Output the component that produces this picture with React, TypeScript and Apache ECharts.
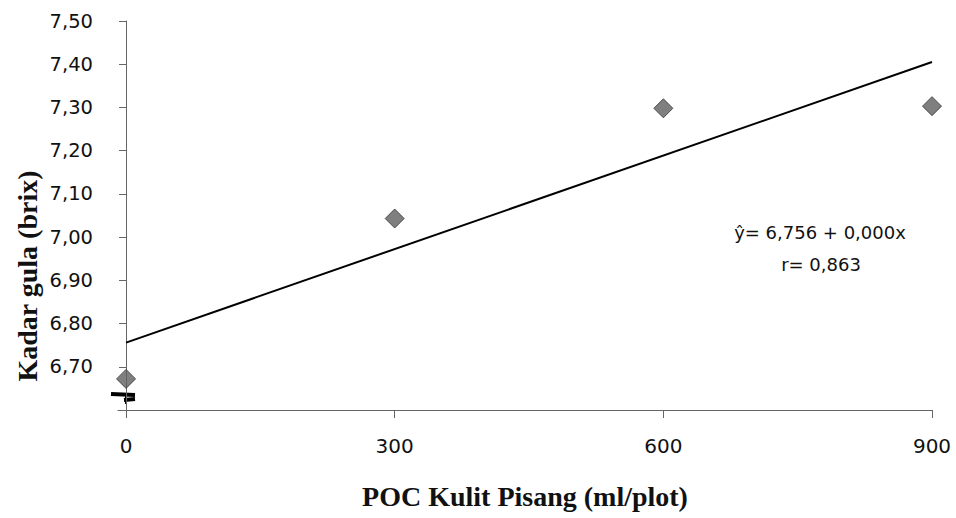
import React, { useEffect, useRef } from "react";
import * as echarts from "echarts";

const xTicks = [0, 300, 600, 900];
const pocDoses = [0, 300, 600, 900];
const sugarBrix = [6.672, 7.043, 7.298, 7.303];
const regressionX = [0, 900];
const regressionY = [6.756, 7.405];
const equationLines = ["ŷ= 6,756 + 0,000x", "r= 0,863"];
const xTitle = "POC Kulit Pisang (ml/plot)";
const yTitle = "Kadar gula (brix)";

export default function App() {
  const ref = useRef<HTMLDivElement>(null);
  useEffect(() => {
    if (!ref.current) return;
    document.body.style.margin = "0";
    const chart = echarts.init(ref.current, null, { renderer: "svg" });
    const axisColor = "#666";
    const sans = "DejaVu Sans";
    chart.setOption({
      animation: false,
      backgroundColor: "#fff",
      grid: { left: 118, right: 24, top: 21, bottom: 108 },
      xAxis: {
        type: "value",
        min: -9,
        max: 900,
        name: xTitle,
        nameLocation: "middle",
        nameGap: 72,
        nameTextStyle: {
          fontFamily: "Liberation Serif",
          fontWeight: "bold",
          fontSize: 28,
          color: "#111",
        },
        splitLine: { show: false },
        axisLine: { onZero: false, lineStyle: { color: axisColor, width: 1 } },
        axisTick: { customValues: xTicks, length: 8, lineStyle: { color: axisColor } },
        axisLabel: {
          customValues: xTicks,
          margin: 26,
          fontSize: 20,
          fontFamily: sans,
          color: "#111",
        },
      },
      yAxis: {
        type: "value",
        min: 6.6,
        max: 7.5,
        interval: 0.1,
        splitLine: { show: false },
        axisLine: { onZero: true, lineStyle: { color: axisColor, width: 1 } },
        axisTick: { length: 7, lineStyle: { color: axisColor } },
        axisLabel: {
          margin: 25,
          fontSize: 19.5,
          fontFamily: sans,
          color: "#111",
          formatter: (v: number) => (v < 6.65 ? "" : v.toFixed(2).replace(".", ",")),
        },
      },
      series: [
        {
          type: "line",
          data: regressionX.map((x, i) => [x, regressionY[i]]),
          symbol: "none",
          lineStyle: { color: "#000", width: 2 },
          z: 2,
        },
        {
          type: "scatter",
          data: pocDoses.map((x, i) => [x, sugarBrix[i]]),
          symbol: "diamond",
          symbolSize: 19,
          itemStyle: { color: "#5f5f5f", borderColor: "#333", borderWidth: 1 },
          z: 3,
        },
      ],
      graphic: [
        {
          type: "text",
          x: 27,
          y: 276,
          rotation: Math.PI / 2,
          style: {
            text: yTitle,
            fontFamily: "Liberation Serif",
            fontWeight: "bold",
            fontSize: 28,
            fill: "#111",
            align: "center",
            verticalAlign: "middle",
          },
        },
        {
          type: "text",
          x: 820,
          y: 232,
          style: {
            text: equationLines[0],
            fontFamily: sans,
            fontSize: 18,
            fill: "#111",
            align: "center",
            verticalAlign: "middle",
          },
        },
        {
          type: "text",
          x: 821,
          y: 264,
          style: {
            text: equationLines[1],
            fontFamily: sans,
            fontSize: 18,
            fill: "#111",
            align: "center",
            verticalAlign: "middle",
          },
        },
        {
          type: "polyline",
          shape: { points: [[111, 394], [135, 395]] },
          style: { stroke: "#000", lineWidth: 4 },
        },
        {
          type: "polyline",
          shape: { points: [[126, 395], [126, 404]] },
          style: { stroke: "#000", lineWidth: 2 },
        },
        {
          type: "polyline",
          shape: { points: [[124, 400], [135, 399]] },
          style: { stroke: "#000", lineWidth: 4 },
        },
      ],
    });
    return () => chart.dispose();
  }, []);
  return <div ref={ref} style={{ width: 956, height: 518 }} />;
}
